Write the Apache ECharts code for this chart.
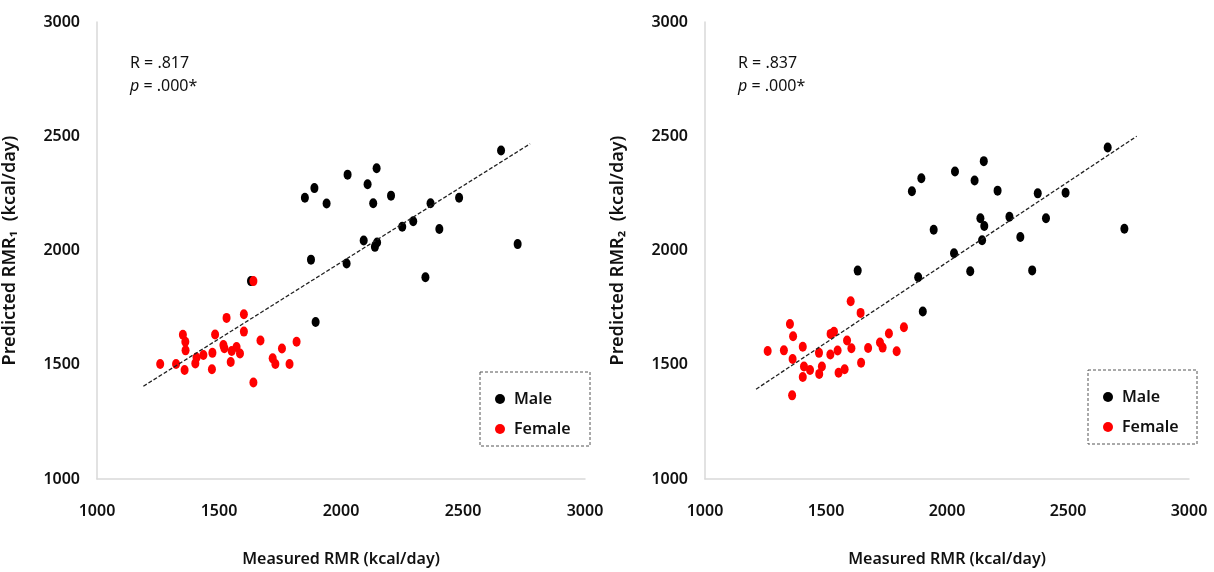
<!DOCTYPE html>
<html>
<head>
<meta charset="utf-8">
<script src="https://cdn.jsdelivr.net/npm/echarts@6/dist/echarts.min.js"></script>
<style>
    html, body { margin: 0; padding: 0; background: #fff; }
    #chart { width: 1214px; height: 572px; }
</style>
</head>
<body>
<div id="chart"></div>
<script>
    // left panel: measured vs predicted RMR1
    var male1 = [
        [1852, 2231], [1891, 2273], [1941, 2206], [2027, 2332], [2146, 2360],
        [2109, 2290], [2132, 2207], [2205, 2240], [2367, 2207], [2484, 2231],
        [2656, 2438], [2296, 2128], [2251, 2104], [2403, 2094], [2093, 2044],
        [2148, 2035], [2139, 2016], [2023, 1943], [1877, 1960], [2724, 2028],
        [2346, 1883], [1896, 1687], [1631, 1866]
    ];
    var female1 = [
        [1641, 1866], [1531, 1705], [1602, 1721], [1602, 1645], [1484, 1632],
        [1352, 1631], [1362, 1601], [1363, 1563], [1670, 1606], [1818, 1601],
        [1758, 1571], [1518, 1586], [1522, 1572], [1572, 1578], [1552, 1560],
        [1586, 1549], [1473, 1552], [1436, 1543], [1408, 1532], [1403, 1506],
        [1324, 1503], [1259, 1503], [1359, 1477], [1471, 1480], [1548, 1512],
        [1720, 1528], [1731, 1503], [1789, 1503], [1641, 1422]
    ];
    var fit1 = [[1190, 1406], [2775, 2467]];

    // right panel: measured vs predicted RMR2
    var male2 = [
        [1855, 2259], [1894, 2316], [2033, 2346], [2152, 2391], [2114, 2306],
        [2209, 2262], [2375, 2250], [2490, 2253], [2664, 2451], [1945, 2091],
        [2138, 2141], [2154, 2107], [2258, 2148], [2409, 2141], [2303, 2059],
        [2145, 2045], [2029, 1988], [2096, 1909], [2352, 1913], [2733, 2095],
        [1881, 1883], [1900, 1733], [1631, 1912]
    ];
    var female2 = [
        [1602, 1778], [1643, 1727], [1351, 1678], [1364, 1625], [1519, 1635],
        [1533, 1644], [1822, 1664], [1760, 1637], [1587, 1606], [1723, 1597],
        [1734, 1575], [1404, 1579], [1605, 1572], [1674, 1573], [1792, 1559],
        [1259, 1560], [1326, 1563], [1471, 1552], [1518, 1545], [1548, 1562],
        [1362, 1525], [1645, 1509], [1409, 1492], [1434, 1477], [1483, 1492],
        [1472, 1460], [1404, 1446], [1552, 1465], [1577, 1480], [1360, 1366]
    ];
    var fit2 = [[1211, 1393], [2784, 2500]];

    var stats = [['R = .817', '.000*'], ['R = .837', '.000*']];
    var yTitles = ['Predicted RMR\u2081  (kcal/day)', 'Predicted RMR\u2082  (kcal/day)'];

    var font = '"Noto Sans", "Noto Sans CJK KR", sans-serif';
    var chart = echarts.init(document.getElementById('chart'));

    function xAxis(i) {
        return {
            gridIndex: i, type: 'value', min: 1000, max: 3000, interval: 500,
            name: 'Measured RMR (kcal/day)', nameLocation: 'middle', nameGap: 72,
            nameTextStyle: { color: '#111', fontSize: 16, fontWeight: 600, fontFamily: font },
            axisLine: { lineStyle: { color: '#d9d9d9', width: 1.5 } },
            axisTick: { show: false }, splitLine: { show: false },
            axisLabel: { margin: 24, color: '#111', fontSize: 16, fontWeight: 600, fontFamily: font,
                formatter: function (v) { return String(v); } }
        };
    }
    function yAxis(i) {
        return {
            gridIndex: i, type: 'value', min: 1000, max: 3000, interval: 500,
            name: yTitles[i], nameLocation: 'middle', nameGap: 78,
            nameTextStyle: { color: '#111', fontSize: 18, fontWeight: 600, fontFamily: font },
            axisLine: { show: true, lineStyle: { color: '#d9d9d9', width: 1.5 } },
            axisTick: { show: false }, splitLine: { show: false },
            axisLabel: { margin: 17, color: '#111', fontSize: 16, fontWeight: 600, fontFamily: font,
                formatter: function (v) { return String(v); } }
        };
    }
    function dots(name, color, data, i) {
        return {
            name: name, type: 'scatter', xAxisIndex: i, yAxisIndex: i,
            data: data, symbol: 'circle', symbolSize: [8, 10],
            itemStyle: { color: color, opacity: 1 }, z: name === 'Female' ? 4 : 3
        };
    }
    function fitLine(data, i) {
        return {
            type: 'line', xAxisIndex: i, yAxisIndex: i, data: data,
            symbol: 'none', silent: true, z: 5,
            lineStyle: { color: '#222', width: 1.3, type: [4, 2] }
        };
    }
    function legend(left, top) {
        return {
            left: left, top: top, orient: 'vertical', itemGap: 14,
            icon: 'circle', itemWidth: 10, itemHeight: 10,
            data: ['Male', 'Female'],
            textStyle: { color: '#111', fontSize: 16, fontFamily: font, fontWeight: 600, padding: [0, 0, 0, 4] }
        };
    }
    function statText(x, i) {
        return {
            type: 'text', left: x, top: 52,
            style: {
                text: stats[i][0] + '\n{it|p} = ' + stats[i][1],
                fontSize: 16, lineHeight: 23, fill: '#111', fontFamily: font,
                rich: { it: { fontStyle: 'italic', fontSize: 16, fontFamily: font } }
            }
        };
    }
    function box(x, y, w, h) {
        return {
            type: 'rect', shape: { x: x, y: y, width: w, height: h },
            style: { fill: 'none', stroke: '#555', lineWidth: 1, lineDash: [3, 2] }
        };
    }

    var option = {
        animation: false,
        backgroundColor: '#fff',
        grid: [
            { left: 97, top: 22, width: 488, height: 465 },
            { left: 705, top: 22, width: 484, height: 465 }
        ],
        xAxis: [xAxis(0), xAxis(1)],
        yAxis: [yAxis(0), yAxis(1)],
        legend: [legend(490, 386), legend(1098, 384)],
        graphic: [
            statText(130, 0), statText(738, 1),
            box(480, 372, 110, 74), box(1088, 370, 109, 74)
        ],
        series: [
            dots('Male', '#000', male1, 0), dots('Female', '#ff0000', female1, 0), fitLine(fit1, 0),
            dots('Male', '#000', male2, 1), dots('Female', '#ff0000', female2, 1), fitLine(fit2, 1)
        ]
    };
    chart.setOption(option);
</script>
</body>
</html>
